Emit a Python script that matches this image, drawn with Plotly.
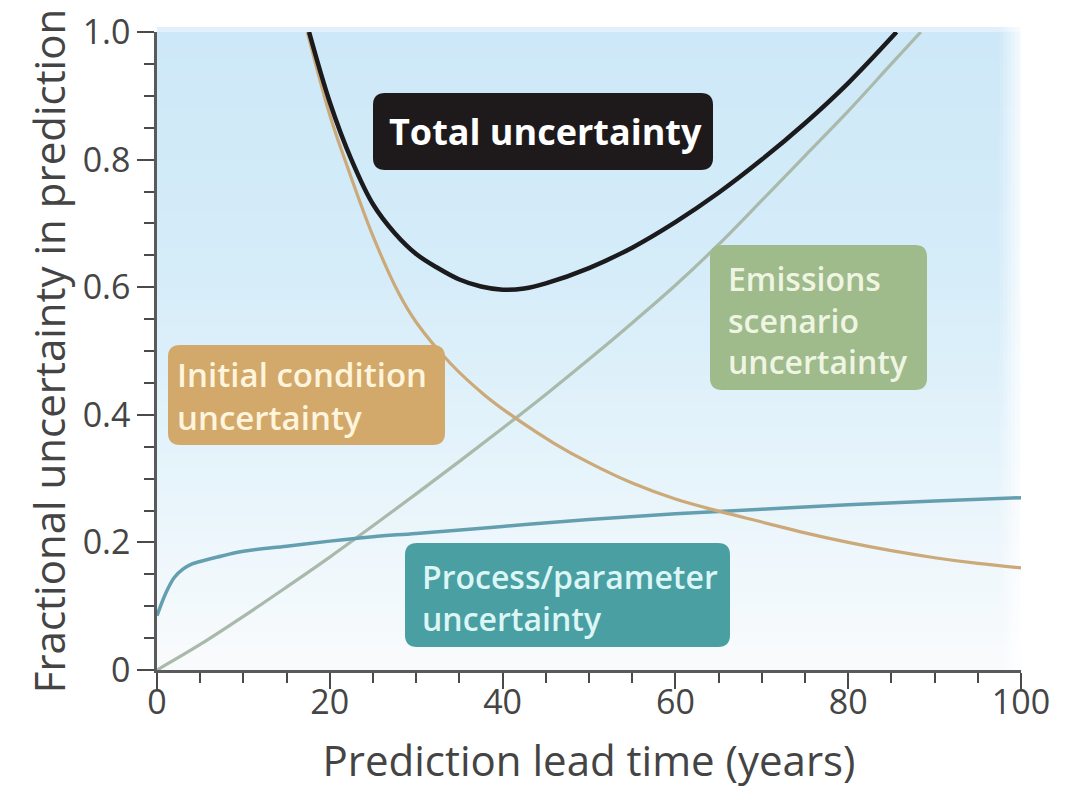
import plotly.graph_objects as go

# ---------------- data ----------------
total_x = [17.6, 20, 22.5, 25, 27.5, 30, 32.5, 35, 37.5, 40, 42.5, 45, 50, 55, 60, 65, 70, 75, 80, 85.6]
total_y = [1.0, 0.89, 0.8, 0.73, 0.685, 0.652, 0.63, 0.612, 0.601, 0.596, 0.598, 0.606, 0.63, 0.662, 0.702, 0.748, 0.8, 0.857, 0.92, 1.0]

initial_x = [17.4, 20, 22, 25, 28, 30, 34, 38, 42, 46, 50, 55, 60, 65, 70, 75, 80, 85, 90, 95, 100]
initial_y = [1.0, 0.87, 0.79, 0.68, 0.59, 0.545, 0.48, 0.43, 0.39, 0.355, 0.325, 0.293, 0.268, 0.249, 0.232, 0.215, 0.2, 0.187, 0.176, 0.167, 0.16]

emissions_x = [0, 5, 10, 15, 20, 25, 30, 35, 40, 45, 50, 55, 60, 65, 70, 75, 80, 85, 88.4]
emissions_y = [0, 0.04, 0.084, 0.13, 0.177, 0.226, 0.276, 0.327, 0.379, 0.432, 0.487, 0.544, 0.603, 0.667, 0.736, 0.806, 0.876, 0.95, 1.0]

process_x = [0, 1, 2, 3, 4, 5, 7, 10, 15, 20, 25, 30, 40, 50, 60, 70, 80, 90, 100]
process_y = [0.085, 0.12, 0.145, 0.158, 0.166, 0.17, 0.177, 0.186, 0.194, 0.202, 0.209, 0.214, 0.225, 0.236, 0.245, 0.252, 0.259, 0.265, 0.27]

x_ticks = [0, 20, 40, 60, 80, 100]
y_ticks = [0, 0.2, 0.4, 0.6, 0.8, 1.0]
y_tick_text = ["0", "0.2", "0.4", "0.6", "0.8", "1.0"]

labels = ["Total uncertainty", "Initial condition<br>uncertainty",
          "Emissions<br>scenario<br>uncertainty", "Process/parameter<br>uncertainty"]

# ---------------- styling ----------------
C_TOTAL = "#1b1a1c"
C_INIT = "#cba978"
C_EMIS = "#a9b9aa"
C_PROC = "#649fb0"
BOX_INIT = "#d2a96a"
BOX_EMIS = "#9fba8b"
BOX_PROC = "#4a9fa3"
BOX_TOTAL = "#1e1a1c"

FONT = "Open Sans"
BOXFONT = "Open Sans"

fig = go.Figure()

fig.add_trace(go.Scatter(x=emissions_x, y=emissions_y, mode="lines", line=dict(color=C_EMIS, width=3.2, shape="spline", smoothing=1.0), hoverinfo="skip"))
fig.add_trace(go.Scatter(x=process_x, y=process_y, mode="lines", line=dict(color=C_PROC, width=3.5, shape="spline", smoothing=1.0), hoverinfo="skip"))
fig.add_trace(go.Scatter(x=initial_x, y=initial_y, mode="lines", line=dict(color=C_INIT, width=3.2, shape="spline", smoothing=1.0), hoverinfo="skip"))
fig.add_trace(go.Scatter(x=total_x, y=total_y, mode="lines", line=dict(color=C_TOTAL, width=4.5, shape="spline", smoothing=1.0), hoverinfo="skip"))

shapes = []

# background gradient (vertical)
stops = [(0.0, (250, 250, 252)), (0.1, (243, 249, 252)), (0.35, (228, 243, 251)),
         (0.6, (214, 237, 249)), (1.0, (205, 232, 248))]

def col_at(t):
    for (t0, c0), (t1, c1) in zip(stops[:-1], stops[1:]):
        if t0 <= t <= t1:
            f = (t - t0) / (t1 - t0)
            return "rgb(%d,%d,%d)" % tuple(round(a + (b - a) * f) for a, b in zip(c0, c1))
    return "rgb(%d,%d,%d)" % stops[-1][1]

N = 50
for i in range(N):
    y0 = i / N
    y1 = (i + 1) / N + 0.002
    shapes.append(dict(type="rect", xref="paper", yref="paper", x0=0, x1=1, y0=y0, y1=min(y1, 1.0),
                       fillcolor=col_at((i + 0.5) / N), line=dict(width=0), layer="below"))
shapes.append(dict(type="rect", xref="paper", yref="paper", x0=0, x1=1, y0=1.0, y1=1.008,
                   fillcolor="rgb(225,240,250)", line=dict(width=0), layer="below"))
for k in range(6):
    x0 = 0.975 + k * 0.0045
    shapes.append(dict(type="rect", xref="paper", yref="paper", x0=x0, x1=x0 + 0.0045, y0=0, y1=1.008,
                       fillcolor="white", opacity=0.12 + 0.14 * k, line=dict(width=0), layer="below"))

# rounded label boxes (pixel-based layout converted to data units)
PX_X = 100 / 864.0
PX_Y = 1 / 638.0

def rbox(x0, x1, y0, y1, color, r=12):
    rx, ry = r * PX_X, r * PX_Y
    p = (f"M {x0+rx},{y1} L {x1-rx},{y1} Q {x1},{y1} {x1},{y1-ry} "
         f"L {x1},{y0+ry} Q {x1},{y0} {x1-rx},{y0} L {x0+rx},{y0} "
         f"Q {x0},{y0} {x0},{y0+ry} L {x0},{y1-ry} Q {x0},{y1} {x0+rx},{y1} Z")
    return dict(type="path", path=p, xref="x", yref="y", fillcolor=color, line=dict(width=0), layer="above")

def px2x(p):
    return (p - 157) * PX_X

def px2y(p):
    return (670 - p) * PX_Y

shapes.append(rbox(px2x(373), px2x(713), px2y(170), px2y(93), BOX_TOTAL))
shapes.append(rbox(px2x(168), px2x(445), px2y(445), px2y(345), BOX_INIT))
shapes.append(rbox(px2x(710), px2x(927), px2y(390), px2y(245), BOX_EMIS))
shapes.append(rbox(px2x(405), px2x(730), px2y(647), px2y(543), BOX_PROC))

annotations = [
    dict(x=px2x(545), y=px2y(131), text=labels[0], showarrow=False, xanchor="center", yanchor="middle",
         font=dict(family=BOXFONT, size=36, color="white", weight="bold")),
    dict(x=px2x(175), y=px2y(396), text=labels[1], showarrow=False, xanchor="left", yanchor="middle", align="left",
         font=dict(family=BOXFONT, size=33, color="#fff4dc", weight=600)),
    dict(x=px2x(726), y=px2y(320), text=labels[2], showarrow=False, xanchor="left", yanchor="middle", align="left",
         font=dict(family=BOXFONT, size=32, color="#eef5e2", weight=600)),
    dict(x=px2x(420), y=px2y(597), text=labels[3], showarrow=False, xanchor="left", yanchor="middle", align="left",
         font=dict(family=BOXFONT, size=32, color="#dcf6f6", weight=600)),
]

# page body has an 8px default margin; margins compensate so the plot area sits at x 157..1021, y 32..670
fig.update_layout(
    width=1068, height=800,
    margin=dict(l=149, r=55, t=24, b=138),
    paper_bgcolor="white", plot_bgcolor="white",
    showlegend=False,
    shapes=shapes,
    annotations=annotations,
    font=dict(family=FONT, color="#444"),
)

fig.update_xaxes(
    range=[0, 100], tickvals=x_ticks, ticks="outside", ticklen=16, tickwidth=2, tickcolor="#4a4a4a",
    showline=True, linecolor="#5a5a5a", linewidth=2.5, showgrid=False, zeroline=False, automargin=False,
    tickfont=dict(family=FONT, size=34, color="#454545"), ticklabelstandoff=-16, ticklabeloverflow="allow",
    minor=dict(dtick=5, tick0=0, ticks="outside", ticklen=10, tickwidth=2, tickcolor="#4a4a4a", showgrid=False),
    title=dict(text="Prediction lead time (years)", font=dict(family=FONT, size=42, color="#444"), standoff=25),
)
fig.update_yaxes(
    range=[0, 1.0], tickvals=y_ticks, ticktext=y_tick_text, ticks="outside", ticklen=17, tickwidth=2, tickcolor="#4a4a4a",
    showline=True, linecolor="#5a5a5a", linewidth=2.5, showgrid=False, zeroline=False, automargin=False,
    tickfont=dict(family=FONT, size=34, color="#454545"), ticklabeloverflow="allow",
    minor=dict(dtick=0.05, tick0=0, ticks="outside", ticklen=10, tickwidth=2, tickcolor="#4a4a4a", showgrid=False),
    title=dict(text="Fractional uncertainty in prediction", font=dict(family=FONT, size=42, color="#444"), standoff=4),
)

fig.write_html("out.html")
